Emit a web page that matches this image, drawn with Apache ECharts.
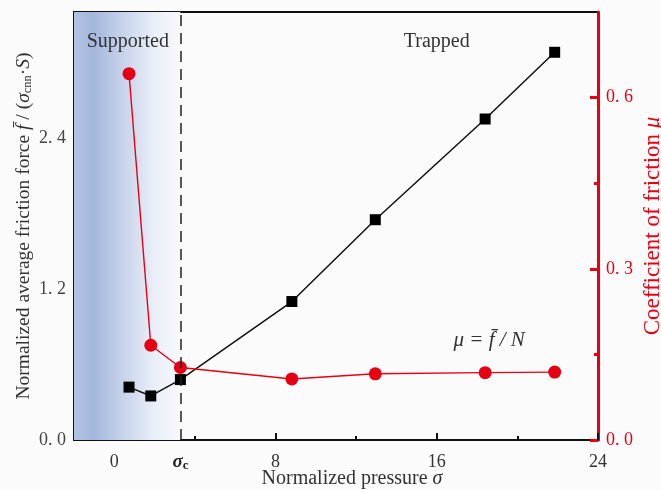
<!DOCTYPE html>
<html><head><meta charset="utf-8">
<script src="https://cdn.jsdelivr.net/npm/echarts@6/dist/echarts.min.js"></script>
<style>html,body{margin:0;padding:0;background:#fbfbfb}#c{width:661px;height:490px}</style>
</head><body><div id="c"></div>
<script>
// ---- data ----
const sigma = [0.73, 1.81, 3.28, 8.81, 12.95, 18.4, 21.85];
const force = [0.42, 0.35, 0.48, 1.10, 1.75, 2.55, 3.08];
const mu    = [0.642, 0.166, 0.127, 0.107, 0.116, 0.118, 0.119];
const sigmaC = 3.28;
const xMajorTicks = [0, 8, 16, 24];
const xMinorTicks = [4, 12, 20];
const xLabelValues = [0, sigmaC, 8, 16, 24];
const yLeftMajor = [0, 1.2, 2.4];
const yLeftMinor = [0.6, 1.8, 3.0];
const yRightMajor = [0, 0.3, 0.6];
const yRightMinor = [0.15, 0.45];
const annotations = [
  {text: 'Supported', x: 0.67, y: 3.16, style: 'normal', size: 20},
  {text: 'Trapped', x: 16.0, y: 3.16, style: 'normal', size: 20},
  {text: 'μ = f\u0304 / N', x: 18.6, y: 0.79, style: 'italic', size: 21}
];

const serif = 'Liberation Serif';
const RED = '#e60012';
const INK = '#111';
const fmt = v => v.toFixed(1).replace('.', '. ');

const chart = echarts.init(document.getElementById('c'), null, {renderer: 'canvas'});

const tickStyle = (c, w) => ({width: w, color: c});
const option = {
  backgroundColor: '#fbfbfb',
  animation: false,
  grid: {left: 74, right: 63, top: 12, bottom: 50, containLabel: false, outerBoundsMode: 'none',
    show: true, borderColor: INK, borderWidth: 2, backgroundColor: 'transparent'},
  xAxis: [
    {
      type: 'value', min: -2, max: 24, position: 'bottom',
      axisLine: {lineStyle: {color: INK, width: 2}},
      axisTick: {inside: true, length: 7, lineStyle: tickStyle(INK, 2), customValues: xMajorTicks},
      axisLabel: {
        customValues: xLabelValues, margin: 13, color: '#333', fontFamily: serif, fontSize: 18,
        formatter: v => Math.abs(v - sigmaC) < 1e-6 ? '{s|σ}{c|c}' : String(v),
        rich: {
          s: {fontFamily: serif, fontStyle: 'italic', fontWeight: 'bold', fontSize: 19, color: '#222'},
          c: {fontFamily: serif, fontWeight: 'bold', fontSize: 13, color: '#222', verticalAlign: 'bottom', padding: [6, 0, 0, 0]}
        }
      },
      splitLine: {show: false},
      name: 'Normalized pressure {i|σ}', nameLocation: 'middle', nameGap: 29, nameMoveOverlap: false,
      nameTextStyle: {fontFamily: serif, fontSize: 20, color: '#333', padding: [0, 0, 0, 32],
        rich: {i: {fontFamily: serif, fontStyle: 'italic', fontSize: 20, color: '#333'}}}
    },
    {
      type: 'value', min: -2, max: 24, position: 'bottom',
      axisLine: {show: false},
      axisTick: {inside: true, length: 4, lineStyle: tickStyle(INK, 2), customValues: xMinorTicks},
      axisLabel: {show: false}, splitLine: {show: false}
    }
  ],
  yAxis: [
    {
      type: 'value', min: 0, max: 3.4, position: 'left',
      axisLine: {show: true, lineStyle: {color: INK, width: 2}},
      axisTick: {show: true, inside: true, length: 7, lineStyle: tickStyle(INK, 2), customValues: yLeftMajor},
      axisLabel: {customValues: yLeftMajor, formatter: fmt, margin: 8, color: '#444', fontFamily: serif, fontSize: 18},
      splitLine: {show: false},
      name: 'Normalized average friction force {i|f\u0304} / ({i|σ}{sub|cnn}·{i|S})',
      nameLocation: 'middle', nameGap: 40, nameRotate: 90, nameMoveOverlap: false,
      nameTextStyle: {fontFamily: serif, fontSize: 19.5, color: '#333',
        rich: {
          i: {fontFamily: serif, fontStyle: 'italic', fontSize: 19.5, color: '#333'},
          sub: {fontFamily: serif, fontSize: 12.5, color: '#333', verticalAlign: 'bottom', padding: [6, 0, 0, 0]}
        }}
    },
    {
      type: 'value', min: 0, max: 3.4, position: 'left',
      axisLine: {show: false},
      axisTick: {show: true, inside: true, length: 4, lineStyle: tickStyle(INK, 2), customValues: yLeftMinor},
      axisLabel: {show: false}, splitLine: {show: false}
    },
    {
      type: 'value', min: 0, max: 0.75, position: 'right',
      axisLine: {show: true, lineStyle: {color: RED, width: 3}},
      axisTick: {show: true, inside: true, length: 8, lineStyle: tickStyle(RED, 3), customValues: yRightMajor},
      axisLabel: {customValues: yRightMajor, formatter: fmt, margin: 8, color: RED, fontFamily: serif, fontSize: 18},
      splitLine: {show: false},
      name: 'Coefficient of friction {i|μ}', nameLocation: 'middle', nameGap: 43, nameRotate: 90, nameMoveOverlap: false,
      nameTextStyle: {fontFamily: serif, fontSize: 23, color: RED,
        rich: {i: {fontFamily: serif, fontStyle: 'italic', fontSize: 23, color: RED}}}
    },
    {
      type: 'value', min: 0, max: 0.75, position: 'right',
      axisLine: {show: false},
      axisTick: {show: true, inside: true, length: 4, lineStyle: tickStyle(RED, 3), customValues: yRightMinor},
      axisLabel: {show: false}, splitLine: {show: false}
    }
  ],
  series: [
    {
      type: 'line', xAxisIndex: 0, yAxisIndex: 0, z: 3,
      data: sigma.map((s, i) => [s, force[i]]),
      symbol: 'rect', symbolSize: 11,
      lineStyle: {color: INK, width: 1.5}, itemStyle: {color: '#000'},
      markArea: {
        silent: true,
        itemStyle: {color: {type: 'linear', x: 0, y: 0, x2: 1, y2: 0, colorStops: [
          {offset: 0, color: '#b3c3e2'},
          {offset: 0.18, color: '#a3b6dc'},
          {offset: 0.45, color: '#c6d2ea'},
          {offset: 0.75, color: '#e9eef8'},
          {offset: 1, color: '#f8f9fc'}
        ]}},
        data: [[{xAxis: -2}, {xAxis: sigmaC}]]
      },
      markLine: {
        silent: true, symbol: 'none', label: {show: false},
        lineStyle: {color: '#222', type: [11, 7], width: 1.5},
        data: [{xAxis: sigmaC}]
      }
    },
    {
      type: 'line', xAxisIndex: 0, yAxisIndex: 2, z: 4,
      data: sigma.map((s, i) => [s, mu[i]]),
      symbol: 'circle', symbolSize: 13,
      lineStyle: {color: RED, width: 1.4}, itemStyle: {color: RED}
    }
  ]
};
chart.setOption(option);

const graphics = annotations.map(a => {
  const p = chart.convertToPixel({xAxisIndex: 0, yAxisIndex: 0}, [a.x, a.y]);
  return {
    type: 'text', x: p[0], y: p[1], z: 10,
    style: {text: a.text, font: (a.style === 'italic' ? 'italic ' : '') + a.size + 'px "Liberation Serif"',
      fill: '#333', align: 'center', verticalAlign: 'middle'}
  };
});
chart.setOption({graphic: graphics});
</script>
</body></html>
